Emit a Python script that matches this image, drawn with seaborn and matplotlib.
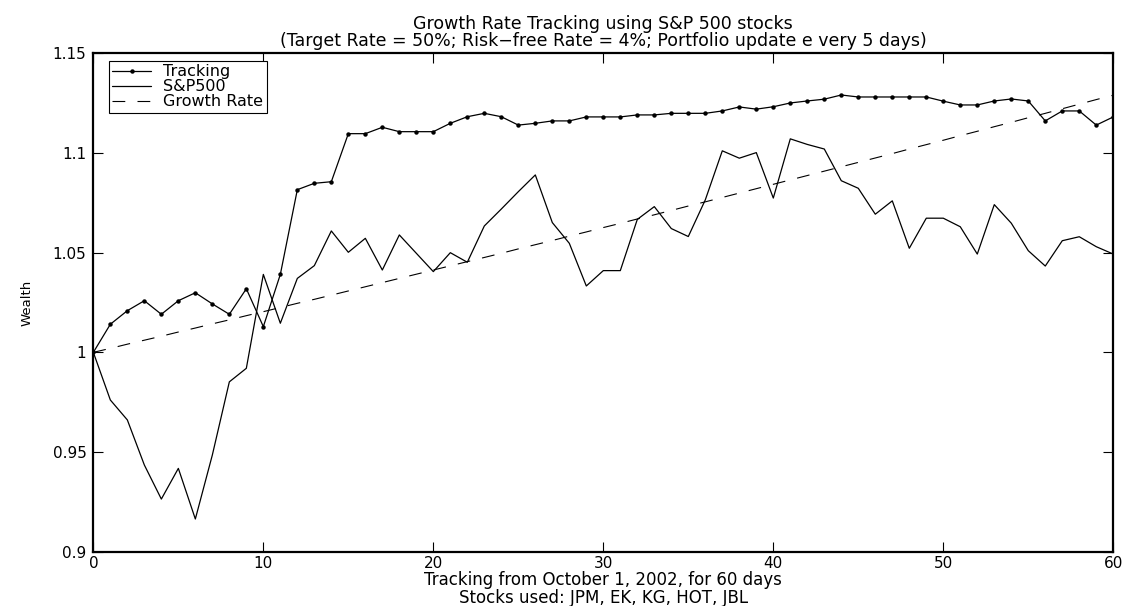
import matplotlib
matplotlib.use("Agg")
import matplotlib.pyplot as plt
import seaborn as sns
import pandas as pd

days = list(range(61))

tracking = [
    1.0000, 1.0141, 1.0209, 1.0259, 1.0191, 1.0259, 1.0299, 1.0243, 1.0191, 1.0319,
    1.0129, 1.0391, 1.0816, 1.0848, 1.0856, 1.1097, 1.1097, 1.1129, 1.1107, 1.1107,
    1.1107, 1.1149, 1.1182, 1.1199, 1.1182, 1.1140, 1.1149, 1.1161, 1.1161, 1.1181,
    1.1181, 1.1181, 1.1191, 1.1191, 1.1199, 1.1199, 1.1199, 1.1211, 1.1231, 1.1220,
    1.1232, 1.1251, 1.1261, 1.1270, 1.1291, 1.1281, 1.1281, 1.1281, 1.1281, 1.1281,
    1.1260, 1.1241, 1.1241, 1.1261, 1.1271, 1.1261, 1.1161, 1.1211, 1.1211, 1.1140,
    1.1181,
]

sp500 = [
    1.0000, 0.9761, 0.9661, 0.9435, 0.9264, 0.9418, 0.9164, 0.9485, 0.9852, 0.9920,
    1.0391, 1.0146, 1.0371, 1.0435, 1.0609, 1.0502, 1.0572, 1.0413, 1.0589, 1.0497,
    1.0405, 1.0500, 1.0452, 1.0634, 1.0719, 1.0806, 1.0890, 1.0651, 1.0547, 1.0333,
    1.0410, 1.0410, 1.0667, 1.0731, 1.0621, 1.0581, 1.0765, 1.1011, 1.0974, 1.1002,
    1.0774, 1.1071, 1.1043, 1.1020, 1.0861, 1.0823, 1.0693, 1.0760, 1.0522, 1.0673,
    1.0673, 1.0630, 1.0493, 1.0741, 1.0648, 1.0510, 1.0433, 1.0560, 1.0580, 1.0530,
    1.0493,
]

growth = [
    1.0000, 1.0020, 1.0041, 1.0061, 1.0081, 1.0102, 1.0122, 1.0143, 1.0163, 1.0184,
    1.0204, 1.0225, 1.0246, 1.0266, 1.0287, 1.0308, 1.0329, 1.0350, 1.0371, 1.0392,
    1.0413, 1.0434, 1.0455, 1.0476, 1.0497, 1.0519, 1.0540, 1.0561, 1.0583, 1.0604,
    1.0626, 1.0647, 1.0669, 1.0690, 1.0712, 1.0734, 1.0755, 1.0777, 1.0799, 1.0821,
    1.0843, 1.0865, 1.0887, 1.0909, 1.0931, 1.0953, 1.0975, 1.0997, 1.1020, 1.1042,
    1.1064, 1.1087, 1.1109, 1.1132, 1.1154, 1.1177, 1.1199, 1.1222, 1.1245, 1.1268,
    1.1290,
]

x_ticks = [0, 10, 20, 30, 40, 50, 60]
y_ticks = [0.9, 0.95, 1.0, 1.05, 1.1, 1.15]
y_tick_labels = ["0.9", "0.95", "1", "1.05", "1.1", "1.15"]

df = pd.DataFrame({"day": days, "Tracking": tracking, "S&P500": sp500, "Growth Rate": growth})

sns.set_theme(style="ticks")
plt.rcParams["font.family"] = ["DejaVu Sans"]
plt.rcParams["text.color"] = "black"
plt.rcParams["axes.labelcolor"] = "black"

fig = plt.figure(figsize=(11.26, 6.06), dpi=100)
ax = fig.add_axes([0.0829, 0.0896, 0.9058, 0.8224])

sns.lineplot(data=df, x="day", y="Tracking", ax=ax, color="black", lw=0.9,
             marker="o", markersize=3.2, markeredgewidth=0, label="Tracking")
sns.lineplot(data=df, x="day", y="S&P500", ax=ax, color="black", lw=0.9, label="S&P500")
sns.lineplot(data=df, x="day", y="Growth Rate", ax=ax, color="black", lw=0.8,
             label="Growth Rate")
ax.lines[-1].set_dashes((11.5, 11))

ax.set_xlim(0, 60)
ax.set_ylim(0.9, 1.15)
ax.set_xticks(x_ticks)
ax.set_yticks(y_ticks)
ax.set_yticklabels(y_tick_labels)
ax.tick_params(direction="in", length=7, width=0.8, top=True, right=True,
               labelsize=11, colors="black")
ax.tick_params(axis="y", pad=5)
ax.tick_params(axis="x", pad=3)
for s in ax.spines.values():
    s.set_linewidth(1.6)
    s.set_color("black")

ax.set_xlabel("Tracking from October 1, 2002, for 60 days\nStocks used: JPM, EK, KG, HOT, JBL",
              fontsize=12, labelpad=0, linespacing=0.98, color="black")
ax.set_ylabel("Wealth", fontsize=9.5, labelpad=14, color="black")
ax.set_title("Growth Rate Tracking using S&P 500 stocks\n"
             "(Target Rate = 50%; Risk\u2212free Rate = 4%; Portfolio update e very 5 days)",
             fontsize=12.5, pad=5, linespacing=0.98, color="black")

leg = ax.legend(loc="upper left", bbox_to_anchor=(0.0155, 0.984), fontsize=11.5,
                frameon=True, fancybox=False, edgecolor="black", framealpha=1,
                borderpad=0.2, labelspacing=0.0, handlelength=2.4, handletextpad=0.8,
                borderaxespad=0)
leg.get_frame().set_linewidth(0.8)
for t in leg.get_texts():
    t.set_color("black")

fig.savefig("out.png", dpi=100)
